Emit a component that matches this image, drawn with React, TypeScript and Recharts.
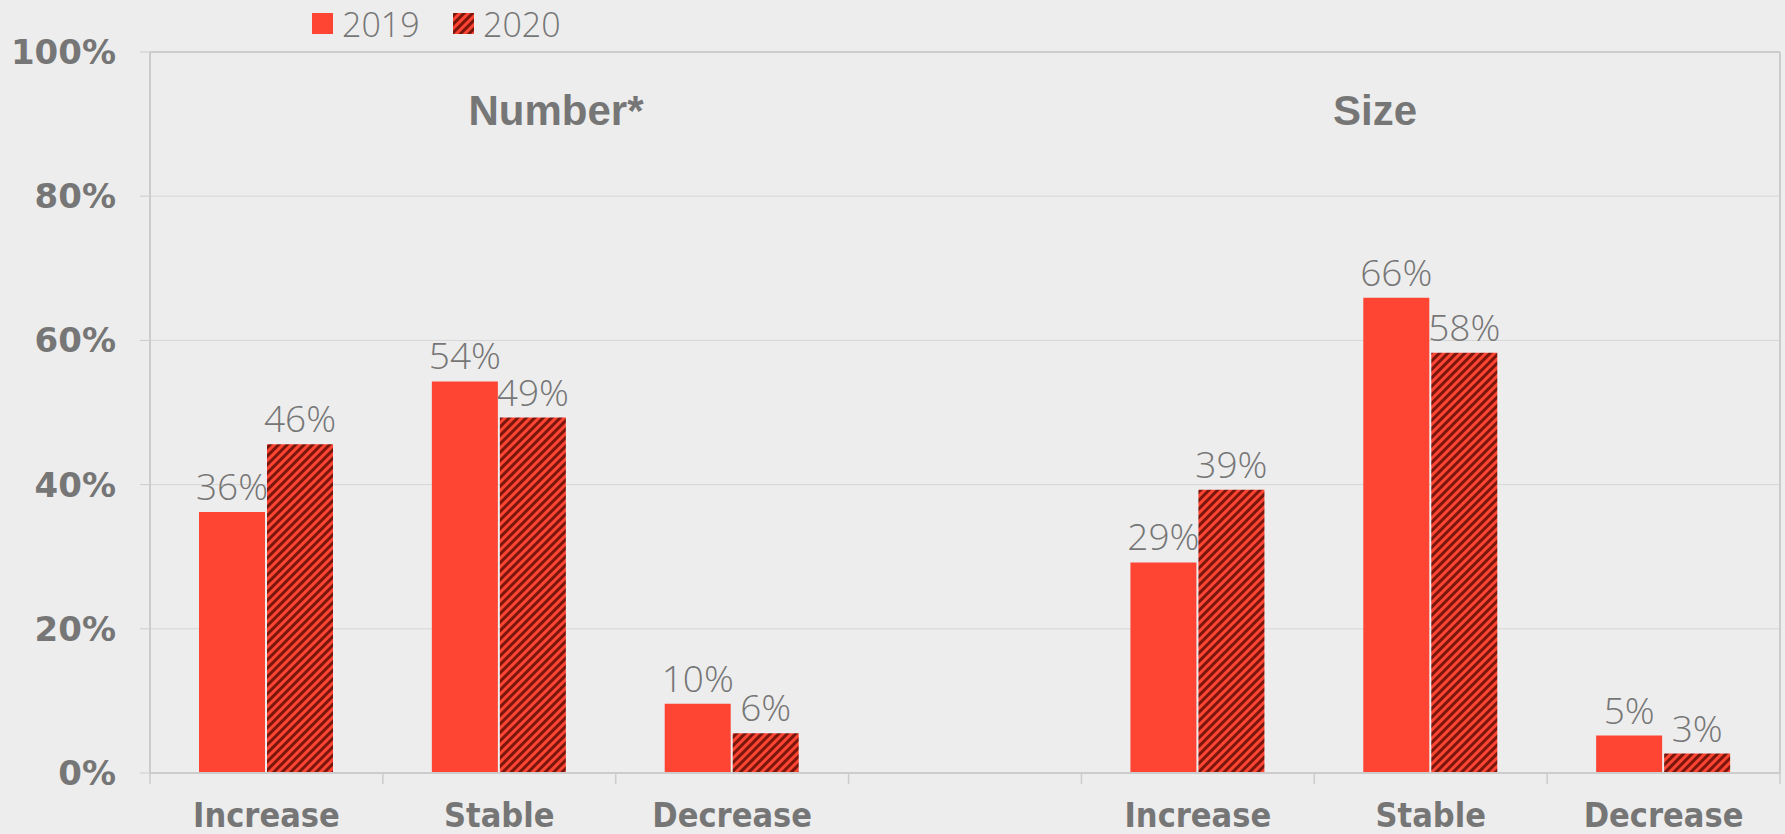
import { Bar, BarChart, CartesianGrid, LabelList, ReferenceLine, XAxis, YAxis } from "recharts";

// categories: 3 for "Number*", an empty spacer, 3 for "Size"
const categories = ["Increase", "Stable", "Decrease", "", "Increase", "Stable", "Decrease"];
const values2019 = [36.2, 54.3, 9.6, null, 29.2, 65.9, 5.2];
const values2020 = [45.6, 49.3, 5.5, null, 39.3, 58.3, 2.7];
const seriesNames = ["2019", "2020"];
const panelTitles = ["Number*", "Size"];
const yTicks = [0, 20, 40, 60, 80, 100];

const grey = "#767676";
const red = "#fe4433";
const dark = "#7a160b";
const lightFont = "'Open Sans', Lato, sans-serif";

const W = 1785;
const H = 834;
const margin = { top: 52, right: 4, bottom: 0, left: 0 };
const yAxisWidth = 150;
const rightAxisWidth = 1;
const TICK_MARGIN = 30;

function Stripes({ id }: { id: string }) {
  return (
    <pattern id={id} patternUnits="userSpaceOnUse" width="6" height="6" patternTransform="rotate(45)">
      <rect width="6" height="6" fill={red} />
      <rect width="3" height="6" fill={dark} />
    </pattern>
  );
}

// category label + tick marks at the category boundaries
function CategoryTick(props: any) {
  const { x, y, payload, index } = props;
  const fallback = (W - margin.left - margin.right - yAxisWidth - rightAxisWidth) / categories.length / 2;
  const half = payload?.offset || fallback;
  const axisY = y - TICK_MARGIN;
  return (
    <g>
      <line x1={x - half} x2={x - half} y1={axisY} y2={axisY + 11} stroke="#cccccc" strokeWidth={1.5} />
      {index === categories.length - 1 && (
        <line x1={x + half} x2={x + half} y1={axisY} y2={axisY + 11} stroke="#cccccc" strokeWidth={1.5} />
      )}
      <text
        x={x}
        y={y}
        dy="0.71em"
        textAnchor="middle"
        fill={grey}
        fontSize={34}
        fontWeight="bold"
        fontFamily="'DejaVu Sans Condensed', 'DejaVu Sans', sans-serif"
        style={{ fontStretch: "condensed" }}
      >
        {payload?.value}
      </text>
    </g>
  );
}

function App() {
  const chartData = categories.map((name, i) => ({
    name,
    v2019: values2019[i],
    v2020: values2020[i],
  }));

  const fmt = (v: any) => (v == null ? "" : `${Math.round(v)}%`);

  return (
    <div
      style={{
        position: "absolute",
        left: 0,
        top: 0,
        width: W,
        height: H,
        background: "#ededed",
        overflow: "hidden",
      }}
    >
      <BarChart width={W} height={H} data={chartData} margin={margin} barSize={66} barGap={2}>
        <defs>
          <Stripes id="stripes2020" />
        </defs>
        <CartesianGrid vertical={false} stroke="#d6d6d6" />
        <XAxis
          dataKey="name"
          axisLine={{ stroke: "#cccccc", strokeWidth: 2 }}
          tickLine={false}
          tickSize={0}
          tickMargin={TICK_MARGIN}
          height={61}
          interval={0}
          tick={<CategoryTick />}
        />
        <YAxis
          domain={[0, 100]}
          ticks={yTicks}
          width={yAxisWidth}
          tickSize={10}
          tickMargin={24}
          tickFormatter={(v) => `${v}%`}
          axisLine={{ stroke: "#cccccc", strokeWidth: 2 }}
          tickLine={{ stroke: "#cccccc" }}
          tick={{ fill: grey, fontSize: 34, fontWeight: "bold", fontFamily: "'DejaVu Sans', sans-serif" }}
        />
        <YAxis
          yAxisId="r"
          orientation="right"
          domain={[0, 100]}
          width={rightAxisWidth}
          tick={false}
          tickLine={false}
          axisLine={{ stroke: "#cccccc", strokeWidth: 2 }}
        />
        <ReferenceLine y={100} stroke="#cccccc" strokeWidth={2} />
        <Bar dataKey="v2019" name={seriesNames[0]} fill={red} isAnimationActive={false}>
          <LabelList
            dataKey="v2019"
            position="top"
            offset={12}
            formatter={fmt}
            fill={grey}
            fontSize={37}
            fontWeight={300}
            fontFamily={lightFont}
          />
        </Bar>
        <Bar dataKey="v2020" name={seriesNames[1]} fill="url(#stripes2020)" isAnimationActive={false}>
          <LabelList
            dataKey="v2020"
            position="top"
            offset={12}
            formatter={fmt}
            fill={grey}
            fontSize={37}
            fontWeight={300}
            fontFamily={lightFont}
          />
        </Bar>
      </BarChart>

      {/* legend + panel titles */}
      <svg width={W} height={160} style={{ position: "absolute", left: 0, top: 0, pointerEvents: "none" }}>
        <defs>
          <Stripes id="stripesLegend" />
        </defs>
        <rect x={312} y={13} width={21} height={21} fill={red} />
        <text x={342} y={37} fill={grey} fontSize={34} fontWeight={300} fontFamily={lightFont}>
          {seriesNames[0]}
        </text>
        <rect x={453} y={13} width={21} height={21} fill="url(#stripesLegend)" />
        <text x={483} y={37} fill={grey} fontSize={34} fontWeight={300} fontFamily={lightFont}>
          {seriesNames[1]}
        </text>
        <text
          x={556}
          y={125}
          textAnchor="middle"
          fill={grey}
          fontSize={42}
          fontWeight="bold"
          fontFamily="'Liberation Sans', Arial, sans-serif"
        >
          {panelTitles[0]}
        </text>
        <text
          x={1375}
          y={125}
          textAnchor="middle"
          fill={grey}
          fontSize={42}
          fontWeight="bold"
          fontFamily="'Liberation Sans', Arial, sans-serif"
        >
          {panelTitles[1]}
        </text>
      </svg>
    </div>
  );
}

export default App;
